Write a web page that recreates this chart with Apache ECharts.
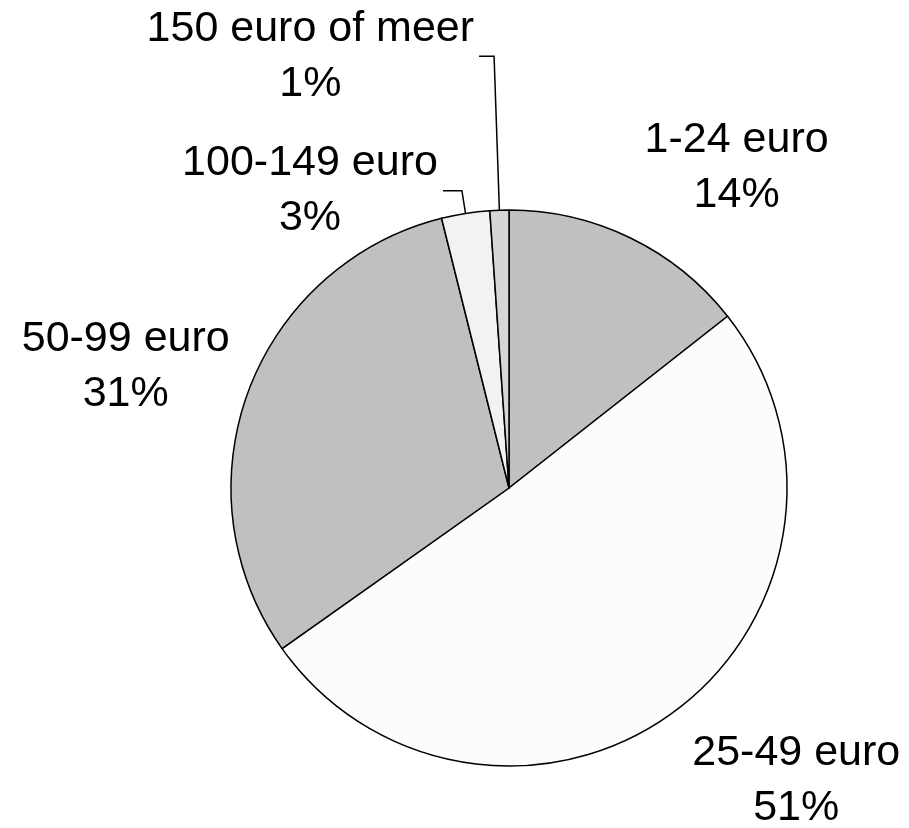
<!DOCTYPE html>
<html>
<head>
<meta charset="utf-8">
<script src="https://cdn.jsdelivr.net/npm/echarts@6/dist/echarts.min.js"></script>
<style>
html,body{margin:0;padding:0;background:#fff;}
#chart{width:909px;height:828px;}
</style>
</head>
<body>
<div id="chart"></div>
<script>
var categories = ['1-24 euro', '25-49 euro', '50-99 euro', '100-149 euro', '150 euro of meer'];
var shares = [14.4, 50.8, 30.9, 2.8, 1.1];
var colors = ['#c0c0c0', '#fcfcfc', '#c0c0c0', '#f2f2f2', '#d6d6d6'];
// label placement per slice: [labelLine length, length2, show line]
var labelPlacement = [[78, -25, false], [87, -40, false], [70, -52, false], [23, 19, true], [154, 15, true]];

var data = categories.map(function (name, i) {
  var p = labelPlacement[i];
  return {
    name: name,
    value: shares[i],
    itemStyle: { color: colors[i] },
    labelLine: { show: p[2], length: p[0], length2: p[1] }
  };
});

var chart = echarts.init(document.getElementById('chart'));
chart.setOption({
  animation: false,
  backgroundColor: '#ffffff',
  series: [{
    type: 'pie',
    center: [509, 488],
    radius: 278,
    startAngle: 90,
    clockwise: true,
    avoidLabelOverlap: false,
    percentPrecision: 0,
    data: data,
    itemStyle: { borderColor: '#000000', borderWidth: 1.5 },
    emphasis: { disabled: true },
    label: {
      show: true,
      position: 'outside',
      formatter: '{b}\n{d}%',
      fontFamily: 'Liberation Sans, Arial, sans-serif',
      fontSize: 43,
      lineHeight: 55,
      color: '#000000',
      distanceToLabelLine: 5
    },
    labelLine: {
      smooth: false,
      lineStyle: { color: '#000000', width: 1.5 }
    },
    labelLayout: function (p) {
      var r = p.labelRect;
      return {
        x: r.x + r.width / 2,
        y: r.y + r.height / 2,
        align: 'center',
        verticalAlign: 'middle',
        labelLinePoints: p.labelLinePoints
      };
    }
  }]
});
</script>
</body>
</html>
